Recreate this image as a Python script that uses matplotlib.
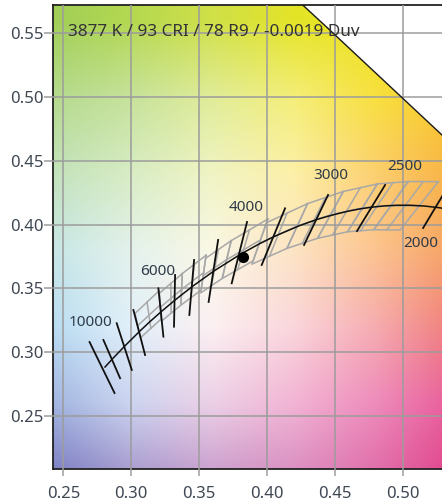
import numpy as np
import matplotlib
matplotlib.use("Agg")
import matplotlib.pyplot as plt

plt.rcParams['font.family'] = ['Noto Sans', 'DejaVu Sans']

# ---------------- data ----------------
# Planckian locus (CIE 1931 xy)
locus_cct = [10000, 9000, 8000, 7000, 6500, 6000, 5500, 5000, 4500, 4000, 3700, 3500,
             3200, 3000, 2900, 2800, 2700, 2600, 2500, 2400, 2300, 2200, 2100, 2000, 1900, 1800]
locus_x = [0.2807, 0.2869, 0.2952, 0.3064, 0.3135, 0.3221, 0.3325, 0.3451, 0.3608, 0.3805,
           0.3946, 0.4053, 0.4234, 0.4369, 0.4443, 0.4521, 0.4599, 0.4682, 0.4770, 0.4862,
           0.4958, 0.5056, 0.5159, 0.5267, 0.5376, 0.5496]
locus_y = [0.2884, 0.2956, 0.3048, 0.3166, 0.3237, 0.3318, 0.3411, 0.3516, 0.3636, 0.3768,
           0.3851, 0.3907, 0.3990, 0.4041, 0.4064, 0.4086, 0.4106, 0.4123, 0.4137, 0.4147,
           0.4152, 0.4152, 0.4146, 0.4133, 0.4113, 0.4081]

# isotherm segments (top end -> bottom end)
iso_cct = [10000, 9000, 8000, 7000, 6000, 5500, 5000, 4500, 4000, 3500, 3000, 2500, 2000]
iso_x1 = [0.2693, 0.2795, 0.2893, 0.3016, 0.3200, 0.3323, 0.3463, 0.3640, 0.3853, 0.4133, 0.4450, 0.4870, 0.5371]
iso_y1 = [0.3080, 0.3096, 0.3227, 0.3331, 0.3501, 0.3605, 0.3723, 0.3880, 0.4021, 0.4128, 0.4233, 0.4311, 0.4366]
iso_x2 = [0.2877, 0.2918, 0.3004, 0.3102, 0.3237, 0.3315, 0.3428, 0.3570, 0.3740, 0.3961, 0.4273, 0.4663, 0.5150]
iso_y2 = [0.2680, 0.2796, 0.2861, 0.2978, 0.3122, 0.3200, 0.3292, 0.3394, 0.3540, 0.3684, 0.3841, 0.3950, 0.3974]

# isotherm labels
label_text = ['10000', '6000', '4000', '3000', '2500', '2000']
label_x = [0.2697, 0.3194, 0.3849, 0.4472, 0.5013, 0.5131]
label_y = [0.3229, 0.3629, 0.4131, 0.4389, 0.4452, 0.3856]

# ANSI C78.377 quadrangles: (top-warm, top-cool, bottom-cool, bottom-warm)
quad_cct = [6500, 5700, 5000, 4500, 4000, 3500, 3000, 2700, 2500, 2200]
quad_x = [[0.3205, 0.3028, 0.3068, 0.3221],
          [0.3376, 0.3207, 0.3222, 0.3366],
          [0.3551, 0.3376, 0.3366, 0.3515],
          [0.3736, 0.3548, 0.3512, 0.3670],
          [0.4006, 0.3736, 0.3670, 0.3898],
          [0.4299, 0.3996, 0.3889, 0.4147],
          [0.4562, 0.4299, 0.4147, 0.4373],
          [0.4813, 0.4562, 0.4373, 0.4593],
          [0.5040, 0.4813, 0.4593, 0.4786],
          [0.5262, 0.5040, 0.4786, 0.4980]]
quad_y = [[0.3481, 0.3304, 0.3113, 0.3261],
          [0.3616, 0.3462, 0.3243, 0.3369],
          [0.3760, 0.3616, 0.3369, 0.3487],
          [0.3874, 0.3736, 0.3465, 0.3578],
          [0.4044, 0.3874, 0.3578, 0.3716],
          [0.4165, 0.4015, 0.3690, 0.3814],
          [0.4260, 0.4165, 0.3814, 0.3893],
          [0.4319, 0.4260, 0.3893, 0.3944],
          [0.4338, 0.4319, 0.3944, 0.3960],
          [0.4337, 0.4338, 0.3960, 0.3958]]

# spectral locus (560-600 nm)
spec_x = [0.3731, 0.4441, 0.5125, 0.5752, 0.6270]
spec_y = [0.6245, 0.5547, 0.4866, 0.4242, 0.3725]

# measured point
pt_x = [0.3826]
pt_y = [0.3744]
info_text = "3877 K / 93 CRI / 78 R9 / -0.0019 Duv"

xticks = [0.25, 0.30, 0.35, 0.40, 0.45, 0.50]
yticks = [0.25, 0.30, 0.35, 0.40, 0.45, 0.50, 0.55]

# background colour anchors (rows: y = 0.20 .. 0.56, cols: x = 0.24 .. 0.54)
bg_rows = [
    ['#7878c0', '#a496cc', '#c89ccc', '#d88cc0', '#e06ca8', '#e04088'],
    ['#a0b4e0', '#ccd4f0', '#ecd0e6', '#f2b4d4', '#ee8cbc', '#e85a98'],
    ['#b8dcf2', '#e2f0fa', '#fcf0f2', '#fad6dc', '#f6acb0', '#f07c78'],
    ['#c6e6e6', '#e4f2ec', '#faf8e6', '#fde4c4', '#fcc490', '#f6a060'],
    ['#c2e2bc', '#d8ecc4', '#f0f4c4', '#fcf0a8', '#fcd070', '#f8b040'],
    ['#b4da8c', '#c6e29a', '#e0ec98', '#f4ee78', '#f8e040', '#f8c828'],
    ['#a0ce58', '#b4d850', '#d0e048', '#e4e428', '#ece420', '#f0d820'],
]

# ---------------- figure ----------------
W, H = 442, 504
fig = plt.figure(figsize=(W / 100, H / 100), dpi=100)
L, R, T, B = 53.3, 442, 5, 469.3
ax = fig.add_axes([L / W, (H - B) / H, (R - L) / W, (B - T) / H])
xmin, xmax = 0.2426, 0.5289
ymin, ymax = 0.2082, 0.5722

from matplotlib.colors import to_rgb
img = np.array([[to_rgb(c) for c in row] for row in bg_rows])
ax.imshow(img, extent=(0.21, 0.57, 0.17, 0.59), origin='lower',
          interpolation='bilinear', aspect='auto', zorder=0)

# white region outside spectral locus
fx = spec_x + [0.70, 0.70, spec_x[0]]
fy = spec_y + [spec_y[-1], 0.70, 0.70]
ax.fill(fx, fy, color='white', zorder=0.5, lw=0)
ax.plot(spec_x, spec_y, color='#1a1a1a', lw=1.0, zorder=4)

ax.set_xlim(xmin, xmax)
ax.set_ylim(ymin, ymax)
ax.set_xticks(xticks)
ax.set_yticks(yticks)
ax.set_xticklabels([f"{v:.2f}" for v in xticks])
ax.set_yticklabels([f"{v:.2f}" for v in yticks])
ax.set_axisbelow(False)
ax.grid(True, color='#9c9c9c', lw=1.1)
for gl in ax.get_xgridlines() + ax.get_ygridlines():
    gl.set_zorder(1)

ax.tick_params(axis='both', colors='#9c9c9c', labelcolor='#3e4752', labelsize=12, width=1.1)
ax.tick_params(axis='x', length=5, pad=7)
ax.tick_params(axis='y', length=6.5, pad=0.5)

for s in ['left', 'bottom', 'top']:
    ax.spines[s].set_color('#222222')
    ax.spines[s].set_linewidth(1.3)
ax.spines['right'].set_visible(False)

# ANSI quadrangles (gray)
gcol = '#a8a8a8'
for qx, qy in zip(quad_x, quad_y):
    ax.plot(qx + [qx[0]], qy + [qy[0]], color=gcol, lw=1.1, zorder=2)
    # subdivision lines
    tmx, tmy = (qx[0] + qx[1]) / 2, (qy[0] + qy[1]) / 2
    bmx, bmy = (qx[2] + qx[3]) / 2, (qy[2] + qy[3]) / 2
    ax.plot([tmx, bmx], [tmy, bmy], color=gcol, lw=1.1, zorder=2)
    lmx, lmy = (qx[1] + qx[2]) / 2, (qy[1] + qy[2]) / 2
    rmx, rmy = (qx[0] + qx[3]) / 2, (qy[0] + qy[3]) / 2
    ax.plot([lmx, rmx], [lmy, rmy], color=gcol, lw=1.1, zorder=2)

# Planckian locus
ax.plot(locus_x, locus_y, color='#111111', lw=1.1, zorder=3)
# isotherms
for x1, y1, x2, y2 in zip(iso_x1, iso_y1, iso_x2, iso_y2):
    ax.plot([x1, x2], [y1, y2], color='#111111', lw=1.3, zorder=3)

for t, x, y in zip(label_text, label_x, label_y):
    ax.text(x, y, t, ha='center', va='center', fontsize=11, color='#2e3a48', zorder=5)

ax.plot(pt_x, pt_y, 'o', color='black', markersize=7, zorder=6)

ax.text(0.2535, 0.551, info_text, ha='left', va='center', fontsize=12.3,
        color='#333333', zorder=5)

fig.savefig('out.png', dpi=100)
